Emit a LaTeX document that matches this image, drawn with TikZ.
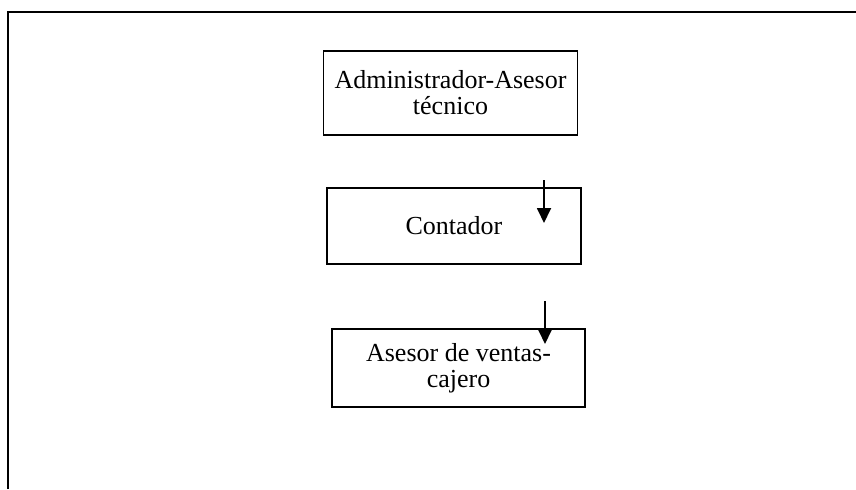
\documentclass[tikz,border=0pt]{standalone}
\usepackage{fontspec}
\setmainfont{Liberation Serif}
\usetikzlibrary{arrows.meta}
\tikzset{
  % role box
  rolebox/.style={rectangle, draw=black, line width=0.8pt, align=center, inner sep=2pt,
                  minimum width=#1, font=\fontsize{13}{13}\selectfont},
  rolebox/.default={127pt},
  % down arrow
  downarrow/.style={-{Triangle[length=7.5pt,width=7pt]}, line width=0.9pt},
}
\begin{document}
\begin{tikzpicture}[x=0.5pt,y=-0.5pt]
  \clip (0,0) rectangle (856,489);
  % frame
  \draw[line width=0.8pt] (8,489) -- (8,12) -- (856,12);

  % boxes
  \node[rolebox, minimum height=42pt] (admin) at (450.5,93) {Administrador-Asesor\\técnico};
  \node[rolebox, minimum height=38pt] (cont) at (454,226) {Contador};
  \node[rolebox=126.5pt, minimum height=39pt] (ventas) at (458.5,368) {Asesor de ventas-\\cajero};

  % arrows
  \coordinate (a1) at (544,180);
  \coordinate (a1e) at (544,223);
  \coordinate (a2) at (545,301);
  \coordinate (a2e) at (545,344);
  \draw[downarrow] (a1) -- (a1e);
  \draw[downarrow] (a2) -- (a2e);
\end{tikzpicture}
\end{document}
